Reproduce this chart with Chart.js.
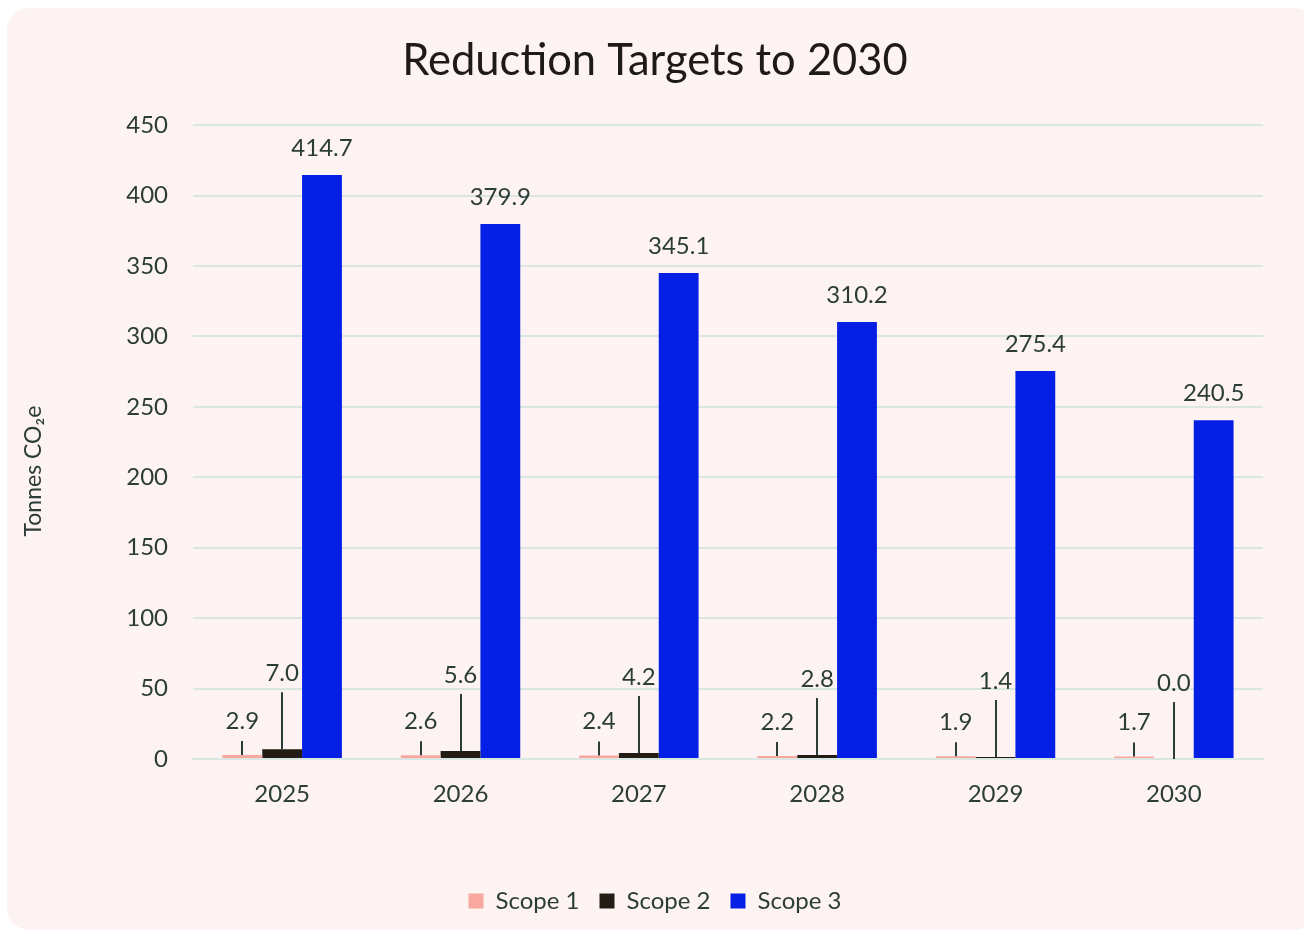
<!DOCTYPE html>
<html>
<head>
<meta charset="utf-8">
<script src="https://cdn.jsdelivr.net/npm/chart.js@4.4.1/dist/chart.umd.min.js"></script>
<style>
  html, body { margin: 0; padding: 0; background: #ffffff; }
  #card { position: absolute; left: 7px; top: 8px; width: 1310px; height: 922px; background: #fdf3f2; border-radius: 22px; }
  #wrap { position: absolute; left: 0; top: 0; width: 1304px; height: 934px; }
</style>
</head>
<body>
<div id="card"></div>
<div id="wrap"><canvas id="c" width="1304" height="934"></canvas></div>
<script>
const categories = ['2025', '2026', '2027', '2028', '2029', '2030'];
const scope1 = [2.9, 2.6, 2.4, 2.2, 1.9, 1.7];
const scope2 = [7.0, 5.6, 4.2, 2.8, 1.4, 0.0];
const scope3 = [414.7, 379.9, 345.1, 310.2, 275.4, 240.5];
const yTicks = [0, 50, 100, 150, 200, 250, 300, 350, 400, 450];
const seriesNames = ['Scope 1', 'Scope 2', 'Scope 3'];
const chartTitle = 'Reduction Targets to 2030';
const yTitle = 'Tonnes CO\u2082e';

const FONT = 'Lato, "Open Sans", sans-serif';
const TEXT = '#2c3d38';
const GRID = '#d9e6e1';

// label offsets above bar top (style, not data)
const labelStyle = [
  { dy: 34, line: [14, 0] },
  { dy: 76, line: [57, 0] },
  { dy: 27, line: null }
];

const dataLabels = {
  id: 'dataLabels',
  afterDatasetsDraw(chart) {
    const ctx = chart.ctx;
    ctx.save();
    ctx.font = '24px ' + FONT;
    ctx.fillStyle = TEXT;
    ctx.strokeStyle = TEXT;
    ctx.lineWidth = 2;
    ctx.textAlign = 'center';
    ctx.textBaseline = 'middle';
    chart.data.datasets.forEach((ds, di) => {
      const meta = chart.getDatasetMeta(di);
      const st = labelStyle[di];
      meta.data.forEach((bar, i) => {
        const v = ds.data[i];
        ctx.fillText(v.toFixed(1), bar.x, bar.y - st.dy);
        if (st.line) {
          ctx.beginPath();
          ctx.moveTo(Math.round(bar.x), bar.y - st.line[0]);
          ctx.lineTo(Math.round(bar.x), bar.y - st.line[1]);
          ctx.stroke();
        }
      });
    });
    ctx.restore();
  }
};

const yAxisTitle = {
  id: 'yAxisTitle',
  afterDraw(chart) {
    const ctx = chart.ctx;
    const a = chart.chartArea;
    ctx.save();
    ctx.font = '23px ' + FONT;
    ctx.fillStyle = TEXT;
    ctx.textAlign = 'center';
    ctx.textBaseline = 'middle';
    ctx.translate(34, (a.top + a.bottom) / 2 + 29);
    ctx.rotate(-Math.PI / 2);
    ctx.fillText(yTitle, 0, 0);
    ctx.restore();
  }
};

new Chart(document.getElementById('c'), {
  type: 'bar',
  data: {
    labels: categories,
    datasets: [
      { label: seriesNames[0], data: scope1, backgroundColor: '#f8a89e' },
      { label: seriesNames[1], data: scope2, backgroundColor: '#231c15' },
      { label: seriesNames[2], data: scope3, backgroundColor: '#061fe4' }
    ]
  },
  options: {
    responsive: false,
    animation: false,
    layout: { padding: { left: 47, right: 41, top: 0, bottom: 11 } },
    datasets: { bar: { barPercentage: 1, categoryPercentage: 0.67 } },
    plugins: {
      title: {
        display: true,
        text: chartTitle,
        color: '#1e1a16',
        font: { family: FONT, size: 43.5, weight: 'normal' },
        padding: { top: 35, bottom: 38 }
      },
      legend: {
        position: 'bottom',
        labels: {
          color: TEXT,
          font: { family: FONT, size: 24 },
          boxWidth: 15,
          boxHeight: 15,
          padding: 20
        }
      },
      tooltip: { enabled: false }
    },
    scales: {
      x: {
        grid: { display: false },
        border: { color: GRID, width: 2 },
        ticks: { color: TEXT, font: { family: FONT, size: 24 }, padding: 13 },
        afterFit(s) { s.height = 110; }
      },
      y: {
        min: 0, max: 450,
        afterBuildTicks(s) { s.ticks = yTicks.map(v => ({ value: v })); },
        grid: { color: GRID, lineWidth: 2, drawTicks: false },
        border: { display: false },
        ticks: { color: TEXT, font: { family: FONT, size: 24 }, padding: 25 },
        afterFit(s) { s.width = 146; }
      }
    }
  },
  plugins: [dataLabels, yAxisTitle]
});
</script>
</body>
</html>
